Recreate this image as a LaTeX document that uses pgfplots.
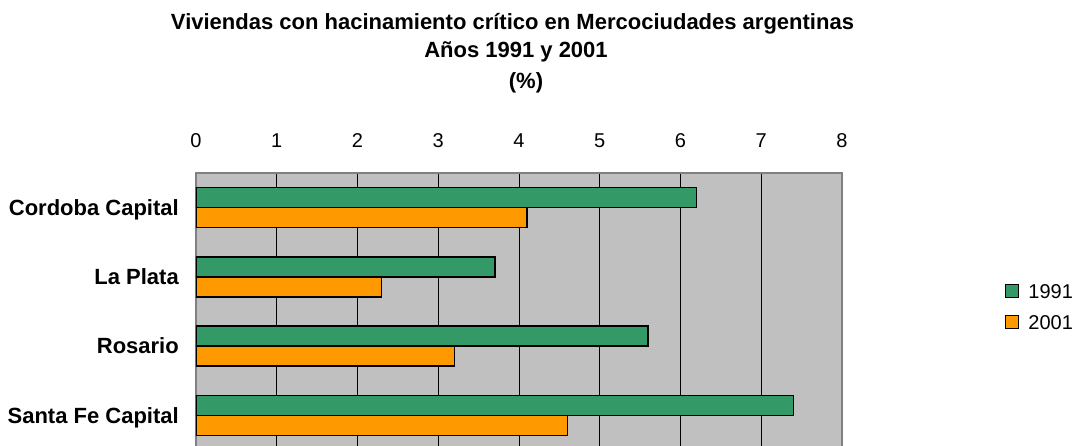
\documentclass[border=0pt]{standalone}
\usepackage{pgfplots}
\pgfplotsset{compat=1.18}
\usepackage{fontspec}
\setmainfont{Liberation Sans}
\definecolor{cgreen}{HTML}{339966}
\definecolor{corange}{HTML}{FF9900}
\definecolor{cbg}{HTML}{C0C0C0}
\definecolor{cframe}{HTML}{808080}
\begin{document}
\begin{tikzpicture}[x=1pt,y=1pt]
\begin{axis}[
  at={(196pt,-5pt)}, anchor=south west,
  scale only axis, width=646pt, height=277pt,
  xbar=0pt, bar width=20pt,
  xmin=0, xmax=8, ymin=-0.5, ymax=3.5,
  y dir=reverse,
  xtick={0,1,...,8},
  ytick={0,1,2,3},
  yticklabels={Cordoba Capital,La Plata,Rosario,Santa Fe Capital},
  xticklabel pos=upper,
  major tick length=0pt,
  xmajorgrids, grid style={black, line width=0.7pt},
  axis background/.style={fill=cbg},
  axis line style={cframe, line width=1.7pt},
  /pgf/number format/assume math mode=true,
  xticklabel style={font=\fontsize{20}{24}\selectfont, anchor=base, yshift=25.3pt},
  yticklabel style={font=\fontsize{22}{26}\selectfont\bfseries, anchor=base east, inner sep=0pt, xshift=-17pt, yshift=-7.8pt},
  legend style={at={(1.2523,0.5998)}, anchor=north west, draw=none, fill=none, inner sep=0pt,
    font=\fontsize{20}{24}\selectfont, row sep=16.7pt,
    nodes={inner sep=0pt, text height=14.3pt, text depth=0pt}},
  legend cell align=left,
  /tikz/every odd column/.append style={column sep=9pt},
  legend image code/.code={\draw[#1, line width=1.3pt] (0pt,-6.5pt) rectangle (13pt,6.5pt);},
]
\addplot[fill=cgreen, draw=black, line width=1.5pt, bar shift=10pt] coordinates {(6.2,0) (3.7,1) (5.6,2) (7.4,3)};
\addplot[fill=corange, draw=black, line width=1.5pt, bar shift=-10pt] coordinates {(4.1,0) (2.3,1) (3.2,2) (4.6,3)};
\legend{1991,2001}
\end{axis}
\node[anchor=base, font=\fontsize{22}{26}\selectfont\bfseries] at (512.5pt,415pt) {Viviendas con hacinamiento crítico en Mercociudades argentinas};
\node[anchor=base, font=\fontsize{22}{26}\selectfont\bfseries] at (516pt,387.3pt) {Años 1991 y 2001};
\node[anchor=base, font=\fontsize{22}{26}\selectfont\bfseries] at (526pt,356pt) {(\%)};
\pgfresetboundingbox
\useasboundingbox (0pt,0pt) rectangle (1077pt,445pt);
\end{tikzpicture}
\end{document}
